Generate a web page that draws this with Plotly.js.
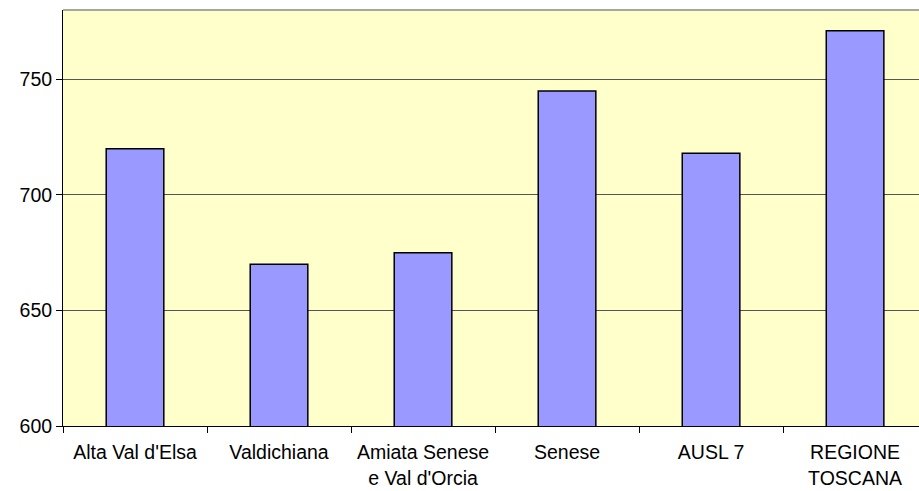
<!DOCTYPE html>
<html>
<head>
<meta charset="utf-8">
<script src="https://cdn.plot.ly/plotly-3.0.1.min.js"></script>
<style>html,body{margin:0;padding:0;background:#fff;}#chart{width:919px;height:491px;}</style>
</head>
<body>
<div id="chart"></div>
<script>
const categories = ["Alta Val d'Elsa", "Valdichiana", "Amiata Senese<br>e Val d'Orcia", "Senese", "AUSL 7", "REGIONE<br>TOSCANA"];
const values = [720, 670, 675, 745, 718, 771];
const yTicks = [600, 650, 700, 750];

const trace = {
  type: 'bar',
  x: categories,
  y: values,
  marker: {color: '#9999FF', line: {color: '#000000', width: 1.5}},
  hoverinfo: 'x+y'
};

const layout = {
  width: 919,
  height: 491,
  margin: {l: 63, r: 0, t: 10, b: 65},
  paper_bgcolor: '#ffffff',
  plot_bgcolor: '#FFFFCC',
  bargap: 0.6,
  showlegend: false,
  font: {family: 'Liberation Sans, Arial, sans-serif', size: 19.5, color: '#000'},
  xaxis: {
    type: 'category',
    range: [-0.5, 5.444],
    showgrid: false,
    showline: true,
    linecolor: '#000',
    linewidth: 1,
    ticks: 'outside',
    tickson: 'boundaries',
    ticklen: 6,
    tickcolor: '#000',
    tickangle: 0,
    tickfont: {size: 19.5},
    ticklabelstandoff: 9,
    automargin: false,
    fixedrange: true
  },
  yaxis: {
    range: [600, 780],
    tickvals: yTicks,
    ticktext: yTicks.map(String),
    showgrid: true,
    gridcolor: '#555555',
    gridwidth: 1,
    showline: true,
    linecolor: '#000',
    linewidth: 1,
    ticks: 'outside',
    ticklen: 6,
    tickcolor: '#000',
    tickfont: {size: 19.5},
    zeroline: false,
    automargin: false,
    fixedrange: true
  },
  shapes: [{
    type: 'line', xref: 'paper', yref: 'paper', x0: 0, x1: 1, y0: 1, y1: 1,
    line: {color: '#888888', width: 1.5}
  }]
};

Plotly.newPlot('chart', [trace], layout, {displayModeBar: false, staticPlot: true});
</script>
</body>
</html>
